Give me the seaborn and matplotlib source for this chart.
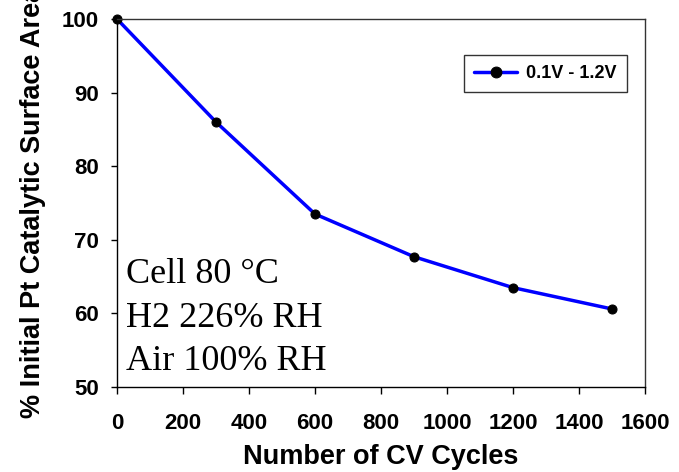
import matplotlib
matplotlib.use("Agg")
import matplotlib.pyplot as plt
import seaborn as sns
import pandas as pd

cycles = [0, 300, 600, 900, 1200, 1500]
ecsa_pct = [100.0, 86.0, 73.5, 67.7, 63.5, 60.6]
series_label = "0.1V - 1.2V"
x_ticks = [0, 200, 400, 600, 800, 1000, 1200, 1400, 1600]
y_ticks = [50, 60, 70, 80, 90, 100]
annot_lines = ["Cell 80 °C", "H2 226% RH", "Air 100% RH"]

sns.set_style("ticks")
plt.rcParams["font.family"] = ["Liberation Sans", "DejaVu Sans"]
plt.rcParams["text.color"] = "black"
plt.rcParams["axes.labelcolor"] = "black"
plt.rcParams["xtick.color"] = "black"
plt.rcParams["ytick.color"] = "black"

df = pd.DataFrame({"cycles": cycles, "ecsa": ecsa_pct, "series": series_label})

W, H = 679, 472
fig = plt.figure(figsize=(W / 100, H / 100), dpi=100)
L, R, T, B = 117, 645, 19, 387
ax = fig.add_axes([L / W, 1 - B / H, (R - L) / W, (B - T) / H])

sns.lineplot(data=df, x="cycles", y="ecsa", hue="series", palette=["#0000ff"],
             marker="o", markersize=6.5, markerfacecolor="black",
             markeredgecolor="black", linewidth=2.5, ax=ax, clip_on=False)

ax.set_xlim(0, 1600)
ax.set_ylim(50, 100)
ax.set_xticks(x_ticks)
ax.set_yticks(y_ticks)
ax.set_xticklabels([str(v) for v in x_ticks], fontsize=16, fontweight="bold", color="black")
ax.set_yticklabels([str(v) for v in y_ticks], fontsize=16, fontweight="bold", color="black")
ax.tick_params(axis="x", direction="out", length=5, width=1, pad=13.5, color="black")
ax.tick_params(axis="y", direction="out", length=4, width=1, pad=9, color="black")

for side in ["left", "bottom"]:
    ax.spines[side].set_color("black")
    ax.spines[side].set_linewidth(1.0)
for side in ["top", "right"]:
    ax.spines[side].set_visible(True)
    ax.spines[side].set_color("#333333")
    ax.spines[side].set_linewidth(1.0)

ax.set_xlabel("Number of CV Cycles", fontsize=19.5, fontweight="bold", color="black")
ax.xaxis.set_label_coords(0.5, -(444 - B) / (B - T))
ax.set_ylabel("")
fig.text(33 / W, 1 - 418 / H, "% Initial Pt Catalytic Surface Area", rotation=90,
         ha="center", va="bottom", fontsize=19.5, fontweight="bold", color="black")

baselines = [283, 327, 370]
for line, yb in zip(annot_lines, baselines):
    ax.text((126 - L) / (R - L), (B - yb) / (B - T), line, transform=ax.transAxes,
            fontsize=26, family=["Liberation Serif", "DejaVu Serif"], va="baseline",
            ha="left", color="black")

handles, labels = ax.get_legend_handles_labels()
leg = ax.legend(handles, labels, loc="upper left",
                bbox_to_anchor=((464 - L) / (R - L), (B - 55) / (B - T)),
                borderaxespad=0, frameon=True, fancybox=False, shadow=False,
                prop={"weight": "bold", "size": 13}, handlelength=2.4,
                handletextpad=0.5, borderpad=0.55, markerscale=1.2)
leg.get_frame().set_edgecolor("black")
leg.get_frame().set_linewidth(1.0)
for t in leg.get_texts():
    t.set_color("black")

fig.savefig("out.png", dpi=100)
